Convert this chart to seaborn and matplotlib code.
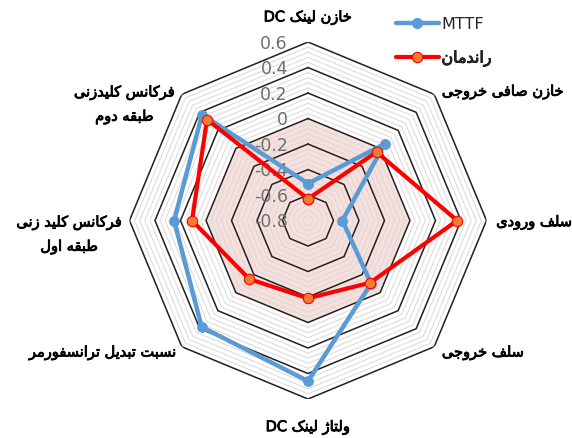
"""
Radar chart: MTTF and efficiency sensitivity per design parameter.
Saves out.png (572x439).
"""

import re

import matplotlib.patheffects as pe
import matplotlib.pyplot as plt
import numpy as np
import pandas as pd
import seaborn as sns
from matplotlib.lines import Line2D


# data (clockwise from top)
CATEGORIES = [
    "خازن لینک DC",
    "خازن صافی خروجی",
    "سلف ورودی",
    "سلف خروجی",
    "ولتاژ لینک DC",
    "نسبت تبدیل ترانسفورمر",
    "فرکانس کلید زنی\nطبقه اول",
    "فرکانس کلیدزنی\nطبقه دوم",
]
MTTF = [-0.51, 0.05, -0.53, -0.10, 0.46, 0.38, 0.25, 0.375]
EFFICIENCY = [-0.63, -0.04, 0.37, -0.11, -0.19, -0.15, 0.11, 0.32]
SERIES_NAMES = ["MTTF", "راندمان"]
R_TICKS = [-0.8, -0.6, -0.4, -0.2, 0.0, 0.2, 0.4, 0.6]
R_TICK_LABELS = ["-0.8", "-0.6", "-0.4", "-0.2", "0", "0.2", "0.4", "0.6"]
SHADE_LEVEL = 0.0

BLUE = "#5b9bd5"
RED = "#ff0000"
ORANGE = "#ed7d31"
HEAVY = [pe.withStroke(linewidth=0.6, foreground="black")]


# minimal Persian shaping (matplotlib 3.10 has no complex text layout)
# isolated, final, initial, medial
FORMS = {
    "\u0627": ("\ufe8d", "\ufe8e", None, None),
    "\u0628": ("\ufe8f", "\ufe90", "\ufe91", "\ufe92"),
    "\u067e": ("\ufb56", "\ufb57", "\ufb58", "\ufb59"),
    "\u062a": ("\ufe95", "\ufe96", "\ufe97", "\ufe98"),
    "\u062c": ("\ufe9d", "\ufe9e", "\ufe9f", "\ufea0"),
    "\u0686": ("\ufb7a", "\ufb7b", "\ufb7c", "\ufb7d"),
    "\u062d": ("\ufea1", "\ufea2", "\ufea3", "\ufea4"),
    "\u062e": ("\ufea5", "\ufea6", "\ufea7", "\ufea8"),
    "\u062f": ("\ufea9", "\ufeaa", None, None),
    "\u0630": ("\ufeab", "\ufeac", None, None),
    "\u0631": ("\ufead", "\ufeae", None, None),
    "\u0632": ("\ufeaf", "\ufeb0", None, None),
    "\u0698": ("\ufb8a", "\ufb8b", None, None),
    "\u0633": ("\ufeb1", "\ufeb2", "\ufeb3", "\ufeb4"),
    "\u0634": ("\ufeb5", "\ufeb6", "\ufeb7", "\ufeb8"),
    "\u0635": ("\ufeb9", "\ufeba", "\ufebb", "\ufebc"),
    "\u0637": ("\ufec1", "\ufec2", "\ufec3", "\ufec4"),
    "\u0639": ("\ufec9", "\ufeca", "\ufecb", "\ufecc"),
    "\u0641": ("\ufed1", "\ufed2", "\ufed3", "\ufed4"),
    "\u0642": ("\ufed5", "\ufed6", "\ufed7", "\ufed8"),
    "\u06a9": ("\ufb8e", "\ufb8f", "\ufb90", "\ufb91"),
    "\u06af": ("\ufb92", "\ufb93", "\ufb94", "\ufb95"),
    "\u0644": ("\ufedd", "\ufede", "\ufedf", "\ufee0"),
    "\u0645": ("\ufee1", "\ufee2", "\ufee3", "\ufee4"),
    "\u0646": ("\ufee5", "\ufee6", "\ufee7", "\ufee8"),
    "\u0647": ("\ufee9", "\ufeea", "\ufeeb", "\ufeec"),
    "\u0648": ("\ufeed", "\ufeee", None, None),
    "\u06cc": ("\ufbfc", "\ufbfd", "\ufbfe", "\ufbff"),
}


def shape(text: str) -> str:
    out = []
    for i, c in enumerate(text):
        if c not in FORMS:
            out.append(c)
            continue
        prev = text[i - 1] if i > 0 else None
        nxt = text[i + 1] if i + 1 < len(text) else None
        join_prev = prev in FORMS and FORMS[prev][2] is not None
        join_next = nxt in FORMS and FORMS[c][2] is not None
        iso, fin, ini, med = FORMS[c]
        if join_prev and join_next:
            out.append(med)
        elif join_prev:
            out.append(fin)
        elif join_next:
            out.append(ini)
        else:
            out.append(iso)
    return "".join(out)


def rtl(text: str) -> str:
    lines = []
    for line in text.split("\n"):
        runs = re.findall(r"[A-Za-z0-9.]+|[^A-Za-z0-9.]+", line)
        parts = [r if re.match(r"[A-Za-z0-9.]", r) else shape(r)[::-1] for r in reversed(runs)]
        lines.append("".join(parts).strip())
    return "\n".join(lines)


def closed(values):
    return list(values) + [values[0]]


def main() -> None:
    sns.set_theme(style="white")
    plt.rcParams["font.family"] = ["DejaVu Sans"]

    n = len(CATEGORIES)
    angles = np.linspace(0, 2 * np.pi, n, endpoint=False)
    theta = closed(angles)

    fig = plt.figure(figsize=(5.72, 4.39), dpi=100)
    ax = fig.add_axes([0.2264, 0.0888, 0.6241, 0.8132], projection="polar")
    ax.set_theta_zero_location("N")
    ax.set_theta_direction(-1)
    ax.set_rlim(R_TICKS[0], R_TICKS[-1])
    ax.grid(False)
    ax.spines["polar"].set_visible(False)
    ax.set_xticks([])
    ax.set_yticks([])

    # shaded band below zero
    ax.fill(theta, [SHADE_LEVEL] * (n + 1), color="#f6dfdc", zorder=0.5, lw=0)

    # polygon grid: minor every 0.04, major every 0.2
    for lvl in np.arange(R_TICKS[0] + 0.04, R_TICKS[-1] + 1e-6, 0.04):
        ax.plot(theta, [lvl] * (n + 1), color="#d9d9d9", lw=0.7, zorder=1)
    for lvl in R_TICKS[1:]:
        ax.plot(theta, [lvl] * (n + 1), color="#222222", lw=1.1, zorder=1.5)

    for r, lab in zip(R_TICKS, R_TICK_LABELS):
        ax.annotate(lab, xy=(0, r), xytext=(-14.5, -0.5), textcoords="offset points",
                    ha="right", va="center", fontsize=12.5, color="#6f6f6f", zorder=2,
                    annotation_clip=False)

    df = pd.DataFrame({
        "theta": theta * 2,
        "value": closed(MTTF) + closed(EFFICIENCY),
        "series": [SERIES_NAMES[0]] * (n + 1) + [SERIES_NAMES[1]] * (n + 1),
    })
    sns.lineplot(data=df[df["series"] == SERIES_NAMES[0]], x="theta", y="value",
                 sort=False, estimator=None, ax=ax, color=BLUE, lw=3.2, marker="o",
                 markersize=7, markerfacecolor=BLUE, markeredgecolor=BLUE, zorder=3)
    sns.lineplot(data=df[df["series"] == SERIES_NAMES[1]], x="theta", y="value",
                 sort=False, estimator=None, ax=ax, color=RED, lw=3, marker="o",
                 markersize=7.5, markerfacecolor=ORANGE, markeredgecolor=RED,
                 markeredgewidth=0.8, zorder=4)
    ax.set_xlabel("")
    ax.set_ylabel("")

    # category labels: (offset in points, ha)
    placements = [
        ((0, 18), "center"),
        ((5.5, 2), "left"),
        ((7, -1), "left"),
        ((5.5, -4), "left"),
        ((0, -20), "center"),
        ((-3.5, -4), "right"),
        ((-5.5, -10), "right"),
        ((-5, -7.5), "right"),
    ]
    for ang, cat, (off, ha) in zip(angles, CATEGORIES, placements):
        ax.annotate(rtl(cat), xy=(ang, R_TICKS[-1]), xytext=off, textcoords="offset points",
                    ha=ha, va="center", multialignment="center", fontsize=10.5,
                    color="black", linespacing=1.75, annotation_clip=False,
                    path_effects=HEAVY)

    handles = [
        Line2D([], [], color=BLUE, lw=3.2, marker="o", markersize=7,
               markerfacecolor=BLUE, markeredgecolor=BLUE),
        Line2D([], [], color=RED, lw=3, marker="o", markersize=7.5,
               markerfacecolor=ORANGE, markeredgecolor=RED, markeredgewidth=0.8),
    ]
    leg = fig.legend(handles, [rtl(s) for s in SERIES_NAMES], loc="upper left",
                     bbox_to_anchor=(0.667, 0.993), frameon=False, fontsize=11.5,
                     handlelength=2.7, handletextpad=0.15, labelspacing=1.2)
    leg.get_texts()[1].set_path_effects(HEAVY)

    fig.savefig("out.png", dpi=100)
    plt.close(fig)


if __name__ == "__main__":
    main()
